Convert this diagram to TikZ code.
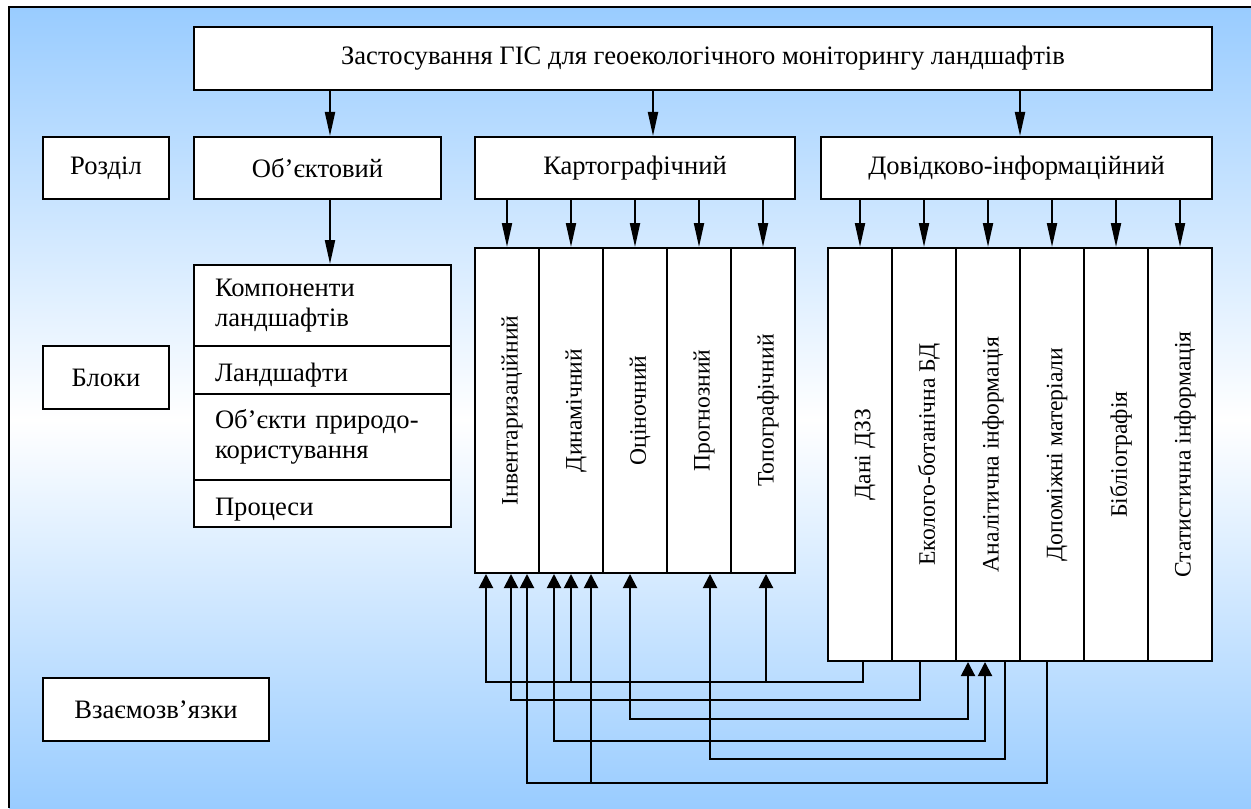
\documentclass[tikz,border=0pt]{standalone}
\usepackage{fontspec}
\setmainfont{Liberation Serif}
\usetikzlibrary{arrows.meta}

\definecolor{bgblue}{RGB}{153,204,255}

\tikzset{
	blockbox/.style = {draw, line width=1pt, fill=white, inner sep=0pt},
	colbox/.style   = {blockbox, minimum width=32pt},
	collabel/.style = {xshift=2.5pt, rotate=90, font=\fontsize{11.8}{14}\selectfont},
	cell/.style     = {blockbox, minimum width=128.5pt, text width=107.5pt, inner xsep=10.5pt, align=left},
	arrdown/.style  = {line width=1pt, -{Triangle[length=12pt, width=5pt]}},
	arrup/.style    = {line width=1pt, -{Triangle[length=7pt, width=7pt]}},
	arrboth/.style  = {line width=1pt, {Triangle[length=7pt, width=7pt]}-{Triangle[length=7pt, width=7pt]}},
}

\begin{document}
\begin{tikzpicture}[x=0.5pt, y=-0.5pt, font=\fontsize{13.3}{15}\selectfont]
	
	% ------------------------------------------------
	% Size of the whole picture
	\useasboundingbox (0,0) rectangle (1251,808);
	
	% ------------------------------------------------
	% Background
	\fill[top color=bgblue, bottom color=white] (9,7) rectangle (1251,420);
	\fill[top color=white, bottom color=bgblue] (9,420) rectangle (1251,808);
	\draw[line width=1pt] (9,808) -- (9,7) -- (1251,7);
	
	% ------------------------------------------------
	% Title and sections
	\node[blockbox, minimum width=509pt, minimum height=31.5pt] (Title) at (703,58.5)
		{Застосування ГІС для геоекологічного моніторингу ландшафтів};
	
	\node[blockbox, minimum width=63pt,    minimum height=31pt] (Rozdil) at (106,168)    {Розділ};
	\node[blockbox, minimum width=123.5pt, minimum height=31pt] (Obj)    at (317.5,168)  {Об’єктовий};
	\node[blockbox, minimum width=160pt,   minimum height=31pt] (Karto)  at (635,168)    {Картографічний};
	\node[blockbox, minimum width=195.5pt, minimum height=31pt] (Dovid)  at (1016.5,168) {Довідково-інформаційний};
	
	\node[blockbox, minimum width=63pt,  minimum height=31.5pt] (Bloky)  at (106,377.5) {Блоки};
	\node[blockbox, minimum width=113pt, minimum height=31.5pt] (Vzaem)  at (156,709.5) {Взаємозв’язки};
	
	% ----------------
	% Object blocks
	\node[cell, minimum height=40.5pt] (Komp) at (322.5,305.5) {Компоненти\\ландшафтів};
	\node[cell, minimum height=24pt]   (Land) at (322.5,370)   {\raisebox{-2.5pt}[\height][\depth]{Ландшафти}};
	\node[cell, minimum height=43pt]   (Obkt) at (322.5,437)   {Об’єкти природо-\\користування};
	\node[cell, minimum height=23.5pt] (Proc) at (322.5,503.5) {\raisebox{-3pt}[\height][\depth]{Процеси}};
	
	% ----------------
	% Map columns
	\foreach \name/\x/\txt in {Inv/507/Інвентаризаційний, Dyn/571/Динамічний, Ots/635/Оціночний,
			Prog/699/Прогнозний, Topo/763/Топографічний}
		\node[colbox, minimum height=162.5pt, label={[collabel]center:\txt}] (\name) at (\x,410.5) {};
	
	% ----------------
	% Info columns
	\foreach \name/\x/\txt in {Dani/860/Дані ДЗЗ, Eco/924/Еколого-ботанічна БД, Anal/988/Аналітична інформація,
			Dop/1052/Допоміжні матеріали, Bib/1116/Бібліографія, Stat/1180/Статистична інформація}
		\node[colbox, minimum height=206.5pt, label={[collabel]center:\txt}] (\name) at (\x,454.5) {};
	
	% ------------------------------------------------
	% Arrows from the top
	\path (Obj.north)   +(6.25pt,0) coordinate (ObjIn);
	\path (Obj.south)   +(6.25pt,0) coordinate (ObjOut);
	\path (Karto.north) +(9pt,0)    coordinate (KartoIn);
	\path (Dovid.north) +(1.75pt,0) coordinate (DovidIn);
	
	\draw[arrdown] (Title.south -| ObjIn)   -- (ObjIn);
	\draw[arrdown] (Title.south -| KartoIn) -- (KartoIn);
	\draw[arrdown] (Title.south -| DovidIn) -- (DovidIn);
	\draw[arrdown] (ObjOut) -- (ObjOut |- Komp.north);
	
	\foreach \c in {Inv,Dyn,Ots,Prog,Topo}
		\draw[arrdown] (Karto.south -| \c.north) -- (\c.north);
	\foreach \c in {Dani,Eco,Anal,Dop,Bib,Stat}
		\draw[arrdown] (Dovid.south -| \c.north) -- (\c.north);
	
	% ------------------------------------------------
	% Links between the columns
	\path (Inv.south)  +(-10.5pt,0) coordinate (InvA);
	\path (Inv.south)  +(2pt,0)     coordinate (InvB);
	\path (Inv.south)  +(10pt,0)    coordinate (InvC);
	\path (Dyn.south)  +(-8.5pt,0)  coordinate (DynA);
	\path (Dyn.south)  +(0pt,0)     coordinate (DynB);
	\path (Dyn.south)  +(10pt,0)    coordinate (DynC);
	\path (Ots.south)  +(-2.5pt,0)  coordinate (OtsA);
	\path (Prog.south) +(5.5pt,0)   coordinate (ProgA);
	\path (Topo.south) +(1.5pt,0)   coordinate (TopoA);
	\path (Dani.south) +(1.5pt,0)   coordinate (DaniA);
	\path (Eco.south)  +(-2pt,0)    coordinate (EcoA);
	\path (Anal.south) +(-10pt,0)   coordinate (AnalA);
	\path (Anal.south) +(-1.5pt,0)  coordinate (AnalB);
	\path (Anal.south) +(8.5pt,0)   coordinate (AnalC);
	\path (Dop.south)  +(-2.5pt,0)  coordinate (DopA);
	
	\coordinate (LevA) at (0,682);
	\coordinate (LevB) at (0,700);
	\coordinate (LevC) at (0,719);
	\coordinate (LevD) at (0,741);
	\coordinate (LevE) at (0,759);
	\coordinate (LevF) at (0,783);
	
	\draw[arrup]   (DaniA) |- (InvA |- LevA) -- (InvA);
	\draw[arrup]   (DynB |- LevA) -- (DynB);
	\draw[arrup]   (TopoA |- LevA) -- (TopoA);
	\draw[arrup]   (EcoA) |- (InvB |- LevB) -- (InvB);
	\draw[arrboth] (OtsA) |- (AnalA |- LevC) -- (AnalA);
	\draw[arrboth] (DynA) |- (AnalB |- LevD) -- (AnalB);
	\draw[arrup]   (AnalC) |- (ProgA |- LevE) -- (ProgA);
	\draw[arrup]   (DopA) |- (InvC |- LevF) -- (InvC);
	\draw[arrup]   (DynC |- LevF) -- (DynC);
	
\end{tikzpicture}
\end{document}
